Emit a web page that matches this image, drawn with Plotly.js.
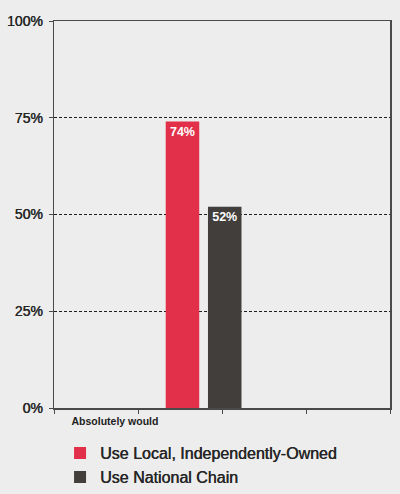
<!DOCTYPE html>
<html>
<head>
<meta charset="utf-8">
<script src="https://cdn.plot.ly/plotly-3.0.1.min.js"></script>
<style>
  html, body { margin: 0; padding: 0; background: #ededed; }
  #chart { width: 400px; height: 494px; }
</style>
</head>
<body>
<div id="chart"></div>
<script>
// Survey answer category shown on the chart
const categories = ["Absolutely would"];

// Share of respondents per option (percent)
const seriesNames = ["Use Local, Independently-Owned", "Use National Chain"];
const localValues = [74];
const chainValues = [52];

// Value axis ticks
const yTickValues = [0, 25, 50, 75, 100];

const colors = ["#e2304a", "#423e3c"];
const fontFamily = "Liberation Sans, Arial, Helvetica, sans-serif";
// A slight horizontal shadow gives the labels a medium weight
const mediumShadow = "0.45px 0 0 #262626";

// Category positions on the x axis (one slot per category)
const categoryIndex = categories.map((_, i) => i);

// Bars sit to the right of the category label, side by side
const barWidth = 0.399;
const barOffsets = [0.604, 1.107];

function barTrace(name, values, color, offset) {
  return {
    type: "bar",
    name: name,
    x: categoryIndex,
    y: values,
    width: barWidth,
    offset: offset,
    marker: { color: color, line: { width: 0 } },
    text: values.map(v => v + "%"),
    textposition: "inside",
    insidetextanchor: "end",
    textangle: 0,
    textfont: { family: fontFamily, size: 12.5, color: "#ffffff", weight: "bold" },
    hoverinfo: "skip",
    cliponaxis: false
  };
}

const data = [
  barTrace(seriesNames[0], localValues, colors[0], barOffsets[0]),
  barTrace(seriesNames[1], chainValues, colors[1], barOffsets[1])
];

const axisColor = "#4a4a4a";

const layout = {
  width: 400,
  height: 494,
  margin: { l: 54, r: 10, t: 21, b: 86, pad: 0 },
  paper_bgcolor: "#ededed",
  plot_bgcolor: "#ededed",
  font: { family: fontFamily, color: "#262626" },
  barmode: "overlay",
  showlegend: true,
  legend: {
    orientation: "v",
    x: 0.018,
    xanchor: "left",
    yref: "container",
    y: 0.117,
    yanchor: "top",
    traceorder: "normal",
    bgcolor: "rgba(0,0,0,0)",
    font: { family: fontFamily, size: 16, color: "#262626", shadow: mediumShadow }
  },
  xaxis: {
    type: "linear",
    range: [-0.726, 3.274],
    tickmode: "array",
    tickvals: categoryIndex,
    ticktext: categories,
    ticks: "",
    ticklabelstandoff: 3,
    tickfont: { family: fontFamily, size: 10.5, color: "#1e1e1e", weight: "bold" },
    showline: true,
    mirror: true,
    linecolor: axisColor,
    linewidth: 1.5,
    showgrid: false,
    zeroline: false,
    fixedrange: true,
    minor: {
      tickmode: "linear",
      tick0: 0.274,
      dtick: 1,
      ticks: "outside",
      ticklen: 4,
      tickwidth: 1,
      tickcolor: axisColor,
      showgrid: false
    }
  },
  yaxis: {
    range: [0, 100],
    tickmode: "array",
    tickvals: yTickValues,
    ticktext: yTickValues.map(v => v + "%"),
    ticks: "outside",
    ticklen: 4,
    tickwidth: 1,
    tickcolor: axisColor,
    ticklabelstandoff: 3,
    tickfont: { family: fontFamily, size: 14, color: "#262626", shadow: mediumShadow },
    showline: true,
    mirror: true,
    linecolor: axisColor,
    linewidth: 1.5,
    showgrid: true,
    gridcolor: "#1e1e1e",
    gridwidth: 1,
    griddash: "3px,2px",
    zeroline: false,
    fixedrange: true
  }
};

Plotly.newPlot("chart", data, layout, { displayModeBar: false, staticPlot: true });
</script>
</body>
</html>
